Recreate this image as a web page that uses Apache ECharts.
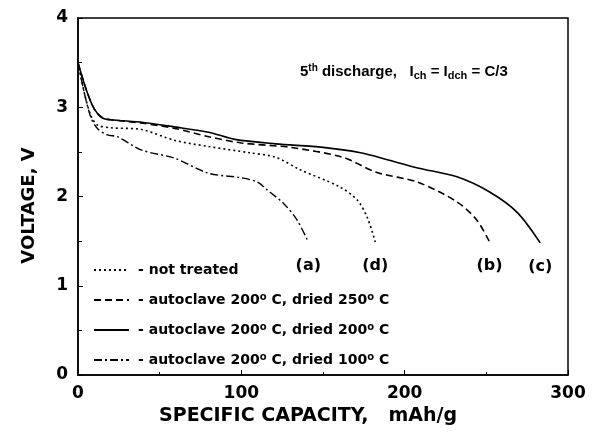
<!DOCTYPE html>
<html>
<head>
<meta charset="utf-8">
<script src="https://cdn.jsdelivr.net/npm/echarts@6/dist/echarts.min.js"></script>
<style>
  html, body { margin: 0; padding: 0; background: #fff; }
  #chart { width: 594px; height: 435px; }
</style>
</head>
<body>
<div id="chart"></div>
<script>
// capacity (mAh/g) and voltage (V)
const capA = [0, 4, 8, 12, 18, 24, 39, 59, 80, 100, 110, 116, 126, 134, 141];
const voltA = [3.5, 3.15, 2.88, 2.76, 2.69, 2.67, 2.52, 2.43, 2.26, 2.21, 2.16, 2.07, 1.92, 1.74, 1.49];

const capB = [0, 5, 10, 15, 20, 40, 60, 80, 100, 130, 162, 183, 208, 232, 244, 252];
const voltB = [3.5, 3.2, 2.98, 2.88, 2.86, 2.82, 2.76, 2.67, 2.60, 2.55, 2.44, 2.27, 2.16, 1.94, 1.74, 1.49];

const capC = [0, 5, 10, 15, 20, 40, 59, 80, 96, 121, 150, 173, 190, 208, 232, 252, 269, 283];
const voltC = [3.5, 3.2, 2.98, 2.88, 2.86, 2.83, 2.78, 2.72, 2.64, 2.59, 2.55, 2.49, 2.41, 2.32, 2.22, 2.05, 1.82, 1.48];

const capD = [0, 4, 8, 12, 20, 39, 59, 80, 105, 121, 136, 160, 171, 177, 182];
const voltD = [3.5, 3.15, 2.9, 2.8, 2.77, 2.75, 2.63, 2.56, 2.49, 2.44, 2.30, 2.11, 1.96, 1.77, 1.49];

const names = [
  '- not treated',
  '- autoclave 200{s|o} C, dried 250{s|o} C',
  '- autoclave 200{s|o} C, dried 200{s|o} C',
  '- autoclave 200{s|o} C, dried 100{s|o} C'
];

function pairs(xs, ys) {
  return xs.map((x, i) => [x, ys[i]]);
}

const myEcharts = echarts.init(document.getElementById('chart'));
const font = 'Liberation Sans, Arial, sans-serif';
const wide = 'DejaVu Sans, sans-serif';

function curve(name, xs, ys, type, width, tag) {
  return {
    type: 'line',
    name: name,
    data: pairs(xs, ys),
    smooth: 0.3,
    symbol: 'none',
    lineStyle: { color: '#000', width: width, type: type },
    itemStyle: { color: '#000' },
    endLabel: {
      show: true,
      formatter: tag,
      distance: 0,
      align: 'center',
      verticalAlign: 'top',
      offset: [0, 16],
      color: '#000',
      fontFamily: wide,
      fontWeight: 'bold',
      fontSize: 16
    }
  };
}

const options = {
  animation: false,
  grid: {
    left: 78,
    right: 26,
    top: 18,
    bottom: 60,
    show: true,
    borderColor: '#000',
    borderWidth: 1.5
  },
  title: {
    text: '5{sup|th} discharge,   I{sub|ch} = I{sub|dch} = C/3',
    left: 295,
    top: 58,
    textStyle: {
      fontFamily: font,
      fontWeight: 'bold',
      fontSize: 15,
      color: '#000',
      rich: {
        sup: { fontSize: 10, fontWeight: 'bold', fontFamily: font, verticalAlign: 'top', padding: [0, 0, 8, 0] },
        sub: { fontSize: 11, fontWeight: 'bold', fontFamily: font, verticalAlign: 'bottom', padding: [6, 0, 0, 0] }
      }
    }
  },
  legend: {
    orient: 'vertical',
    left: 88,
    top: 258,
    itemWidth: 35,
    itemHeight: 14,
    itemGap: 15,
    data: names,
    itemStyle: { opacity: 0 },
    textStyle: {
      fontFamily: wide,
      fontWeight: 'bold',
      fontSize: 14,
      color: '#000',
      padding: [0, 0, 0, 4],
      rich: {
        s: { fontSize: 10, fontWeight: 'bold', fontFamily: wide, verticalAlign: 'top', padding: [0, 0, 6, 0] }
      }
    }
  },
  xAxis: {
    type: 'value',
    min: 0,
    max: 300,
    interval: 100,
    name: 'SPECIFIC CAPACITY,   mAh/g',
    nameLocation: 'middle',
    nameGap: 30,
    nameTextStyle: { fontFamily: wide, fontWeight: 'bold', fontSize: 19, color: '#000', padding: [0, 30, 0, 0] },
    axisLine: { lineStyle: { color: '#000', width: 1.5 } },
    axisTick: { inside: true, length: 5, lineStyle: { color: '#000' } },
    minorTick: { show: true, splitNumber: 2, length: 3, lineStyle: { color: '#000' } },
    splitLine: { show: false },
    axisLabel: { fontFamily: wide, fontWeight: 'bold', fontSize: 17, color: '#000', margin: 10 }
  },
  yAxis: {
    type: 'value',
    min: 0,
    max: 4,
    interval: 1,
    name: 'VOLTAGE, V',
    nameLocation: 'middle',
    nameGap: 40,
    nameTextStyle: { fontFamily: wide, fontWeight: 'bold', fontSize: 18, color: '#000', padding: [0, 18, 0, 0] },
    axisLine: { lineStyle: { color: '#000', width: 1.5 } },
    axisTick: { inside: true, length: 5, lineStyle: { color: '#000' } },
    minorTick: { show: true, splitNumber: 2, length: 4, lineStyle: { color: '#000' } },
    splitLine: { show: false },
    axisLabel: { fontFamily: wide, fontWeight: 'bold', fontSize: 17, color: '#000', margin: 10 }
  },
  series: [
    curve(names[0], capD, voltD, [2, 3], 1.6, '(d)'),
    curve(names[1], capB, voltB, [7, 4], 1.6, '(b)'),
    curve(names[2], capC, voltC, 'solid', 1.6, '(c)'),
    curve(names[3], capA, voltA, [8, 3, 2, 3], 1.4, '(a)')
  ]
};
myEcharts.setOption(options, true);
</script>
</body>
</html>
